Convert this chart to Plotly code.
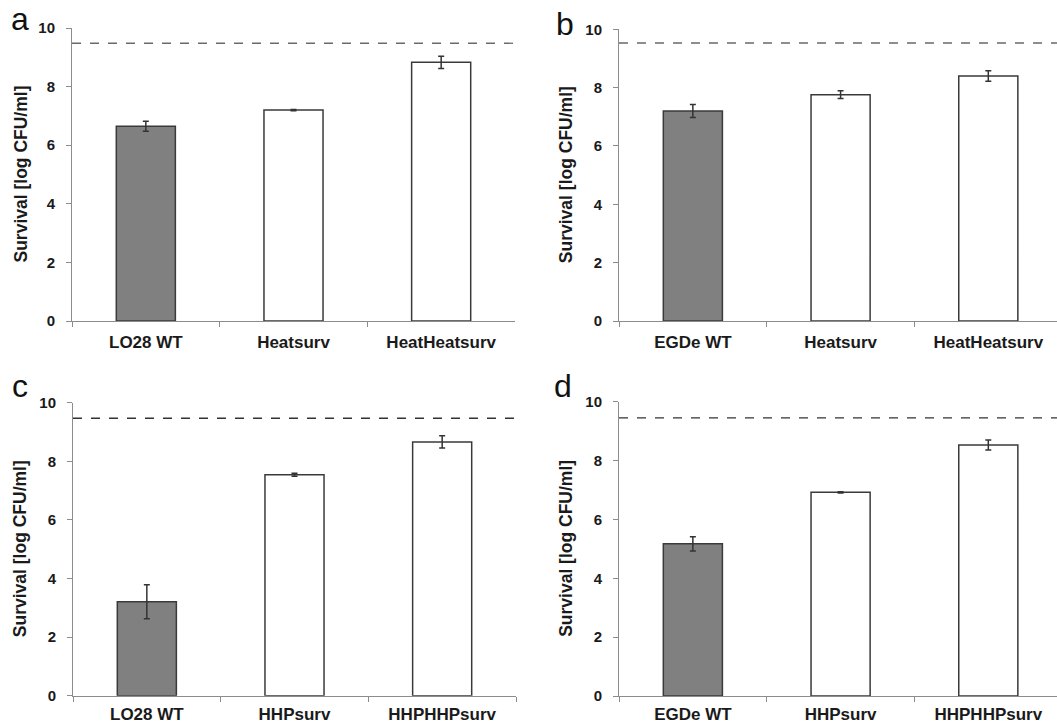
import plotly.graph_objects as go

# ---- data ----
cats_a = ["LO28 WT", "Heatsurv", "HeatHeatsurv"]
vals_a = [6.65, 7.2, 8.83]
err_a = [0.17, 0.02, 0.21]
ref_a = 9.48

cats_b = ["EGDe WT", "Heatsurv", "HeatHeatsurv"]
vals_b = [7.2, 7.76, 8.4]
err_b = [0.22, 0.13, 0.18]
ref_b = 9.53

cats_c = ["LO28 WT", "HHPsurv", "HHPHHPsurv"]
vals_c = [3.21, 7.54, 8.66]
err_c = [0.58, 0.05, 0.21]
ref_c = 9.47

cats_d = ["EGDe WT", "HHPsurv", "HHPHHPsurv"]
vals_d = [5.17, 6.92, 8.53]
err_d = [0.24, 0.02, 0.17]
ref_d = 9.45

panel_letters = ["a", "b", "c", "d"]
y_ticks = [0, 2, 4, 6, 8, 10]
y_title = "Survival [log CFU/ml]"

W, H = 1057, 725
FONT = "Liberation Sans, Arial, sans-serif"


def fx(px):
    return px / W


def fy(py):
    return 1 - py / H


panels = [
    dict(cats=cats_a, vals=vals_a, err=err_a, ref=ref_a, px=(72, 515), py=(28, 321), xr=2.5,
         letter=(20, 31), title_x=20, xstand=6, dash_col="#6a6a6a"),
    dict(cats=cats_b, vals=vals_b, err=err_b, ref=ref_b, px=(619, 1057), py=(29.3, 321), xr=2.465,
         letter=(565, 36), title_x=566, xstand=6, dash_col="#6a6a6a"),
    dict(cats=cats_c, vals=vals_c, err=err_c, ref=ref_c, px=(73, 516), py=(402.7, 695.7), xr=2.5,
         letter=(20, 398), title_x=20, xstand=3, dash_col="#333333"),
    dict(cats=cats_d, vals=vals_d, err=err_d, ref=ref_d, px=(619, 1057), py=(401.7, 696), xr=2.465,
         letter=(563, 398), title_x=566, xstand=3, dash_col="#333333"),
]

fig = go.Figure()
annotations = []
shapes = []
layout = {}

for i, p in enumerate(panels):
    n = "" if i == 0 else str(i + 1)
    xa, ya = "x" + n, "y" + n
    colors = ["#808080", "#ffffff", "#ffffff"]
    fig.add_trace(go.Bar(
        x=p["cats"], y=p["vals"], xaxis=xa, yaxis=ya, width=0.4,
        marker=dict(color=colors, line=dict(color="#3a3a3a", width=1.5)),
        error_y=dict(type="data", array=p["err"], color="#333333", thickness=1.5, width=3),
        showlegend=False, hoverinfo="x+y",
    ))
    x0, x1 = p["px"]
    yt, yb = p["py"]
    layout["xaxis" + n] = dict(
        domain=[max(fx(x0), 0), min(fx(x1), 1)], anchor=ya, type="category",
        range=[-0.5, p["xr"]], showline=True, linecolor="#8c8c8c", linewidth=1,
        ticks="outside", tickson="boundaries", ticklen=5, tickcolor="#8c8c8c",
        ticklabelstandoff=p["xstand"],
        tickfont=dict(family=FONT, size=17, color="#1a1a1a", weight="bold"),
        showgrid=False, zeroline=False, fixedrange=True, automargin=False,
    )
    layout["yaxis" + n] = dict(
        domain=[fy(yb), fy(yt)], anchor=xa, range=[0, 10],
        tickvals=y_ticks, showline=True, linecolor="#8c8c8c", linewidth=1,
        ticks="outside", ticklen=5, tickcolor="#8c8c8c", ticklabelstandoff=8,
        tickfont=dict(family=FONT, size=15, color="#1a1a1a", weight="bold"),
        showgrid=False, zeroline=False, fixedrange=True, automargin=False,
    )
    shapes.append(dict(type="line", xref=xa + " domain", yref=ya, x0=0, x1=1,
                       y0=p["ref"], y1=p["ref"],
                       line=dict(color=p["dash_col"], width=1.3, dash="dash")))
    annotations.append(dict(
        text=y_title, xref="paper", yref="paper", x=fx(p["title_x"]), y=fy((yt + yb) / 2),
        textangle=-90, showarrow=False, xanchor="center", yanchor="middle",
        font=dict(family=FONT, size=17.5, color="#1a1a1a", weight="bold"),
    ))
    lx, lby = p["letter"]
    annotations.append(dict(
        text=panel_letters[i], xref="paper", yref="paper", x=fx(lx), y=fy(lby),
        showarrow=False, xanchor="center", yanchor="bottom", yshift=-8,
        font=dict(family=FONT, size=32, color="#111111"),
    ))

fig.update_layout(
    template="none",
    width=W, height=H, margin=dict(l=0, r=0, t=0, b=0, pad=0),
    paper_bgcolor="white", plot_bgcolor="white",
    annotations=annotations, shapes=shapes, bargap=0.6,
    **layout,
)

fig.write_html("out.html", config={"displayModeBar": False},
               post_script="document.body.style.margin='0';")
